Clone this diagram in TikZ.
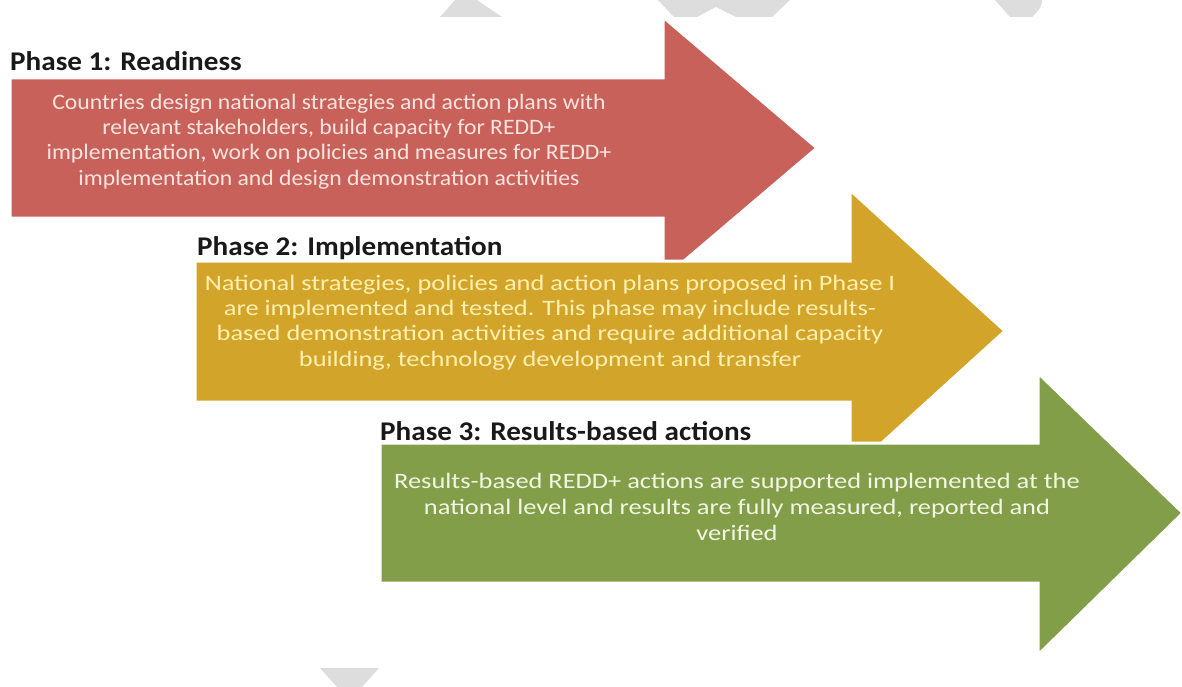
\documentclass[tikz,border=0pt]{standalone}
\usepackage{graphicx}
\usepackage{fontspec}
\setmainfont{Carlito}
\definecolor{phred}{RGB}{201,97,91}
\definecolor{phyellow}{RGB}{211,164,42}
\definecolor{phgreen}{RGB}{131,158,73}
\definecolor{deco}{RGB}{221,221,221}
\definecolor{txred}{RGB}{252,228,222}
\definecolor{txyellow}{RGB}{255,240,175}
\definecolor{txgreen}{RGB}{242,246,228}
\newcommand{\stretchtext}[3]{\scalebox{#1}[1]{\fontsize{22}{#2}\selectfont\begin{tabular}{@{}c@{}}#3\end{tabular}}}
\newcommand{\stretchtitle}[1]{\scalebox{1.08}[1]{#1}}
\tikzset{
  arrowshape/.style={draw=white, line width=3pt, line join=miter},
  phasetitle/.style={anchor=base west, inner sep=0pt, font=\fontsize{27}{32}\selectfont\bfseries, text=black!90},
  phasebody/.style={align=center, inner sep=0pt},
  decoshape/.style={fill=deco}
}
\begin{document}
\begin{tikzpicture}[x=1pt,y=-1pt]
\useasboundingbox (0,0) rectangle (1182,687);
% background decorations
\fill[decoshape] (440,17) -- (455,0) -- (477,0) -- (502,17) -- cycle;
\fill[decoshape] (658,0) -- (790,0) -- (772,17) -- (736,17) -- (716,7) -- (697,17) -- (674,17) -- cycle;
\fill[decoshape] (995,0) -- (1042,0) to[out=-90,in=45] (1032,17) -- (1010,17) -- cycle;
\fill[decoshape] (320,668) -- (379,668) -- (362,687) -- (337,687) -- cycle;
% phase 1 arrow
\filldraw[arrowshape, fill=phred] (10,78) -- (663,78) -- (663,17) -- (817,148) -- (663,279) -- (663,218) -- (10,218) -- cycle;
% phase 2 arrow
\filldraw[arrowshape, fill=phyellow] (195,261) -- (850,261) -- (850,190) -- (1005,331) -- (850,472) -- (850,402) -- (195,402) -- cycle;
% phase 3 arrow
\filldraw[arrowshape, fill=phgreen] (380,443) -- (1038,443) -- (1038,373) -- (1183,513) -- (1038,655) -- (1038,583) -- (380,583) -- cycle;
% titles
\node[phasetitle] (t1) at (10,71) {\stretchtitle{Phase 1: Readiness}};
\node[phasetitle] (t2) at (197,255) {\stretchtitle{Phase 2: Implementation}};
\node[phasetitle] (t3) at (380,440) {\stretchtitle{Phase 3: Results-based actions}};
% bodies
\node[phasebody, text=txred] (b1) at (329,142) {\stretchtext{1.077}{25.3}{Countries design national strategies and action plans with\\relevant stakeholders, build capacity for REDD+\\implementation, work on policies and measures for REDD+\\implementation and design demonstration activities}};
\node[phasebody, text=txyellow] (b2) at (550,323) {\stretchtext{1.2}{25.3}{National strategies, policies and action plans proposed in Phase I\\are implemented and tested. This phase may include results-\\based demonstration activities and require additional capacity\\building, technology development and transfer}};
\node[phasebody, text=txgreen] (b3) at (737,509) {\stretchtext{1.2}{26}{Results-based REDD+ actions are supported implemented at the\\national level and results are fully measured, reported and\\verified}};
\end{tikzpicture}
\end{document}
